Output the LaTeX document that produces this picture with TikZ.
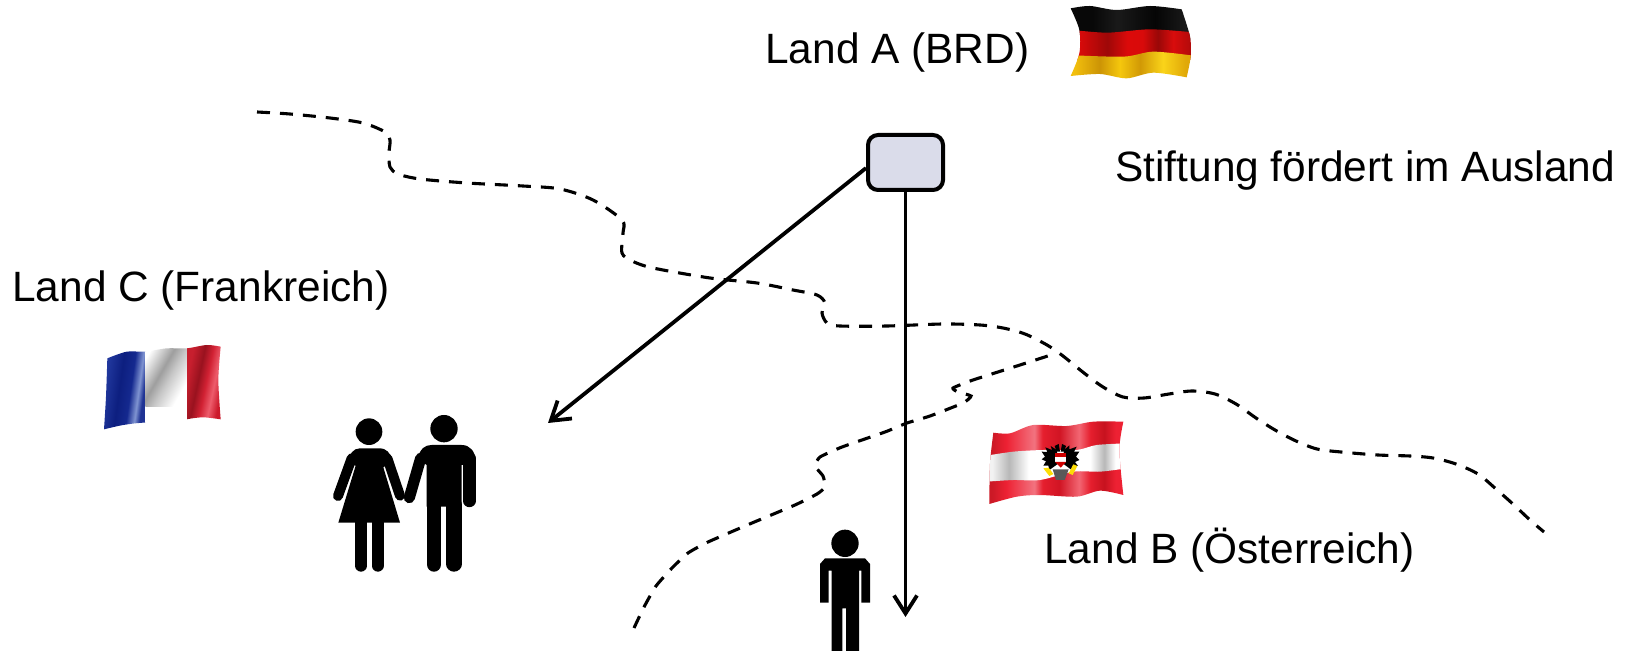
\documentclass[tikz,border=0pt]{standalone}
\usepackage{fontspec}
\setmainfont{Liberation Sans}
\usetikzlibrary{arrows.meta}
\definecolor{boxfill}{HTML}{DADCEA}
% stops 25bp..75bp span the bounding box of the shaded path
\pgfdeclarehorizontalshading{gerblack}{100bp}{rgb(0bp)=(.05,.05,.05);rgb(35bp)=(.03,.03,.03);rgb(45bp)=(.1,.1,.1);rgb(60bp)=(.02,.02,.02);rgb(72bp)=(.1,.1,.1);rgb(100bp)=(.05,.05,.05)}
\pgfdeclarehorizontalshading{gerred}{100bp}{rgb(0bp)=(.8,.05,.05);rgb(30bp)=(.85,.04,.04);rgb(41bp)=(.62,.03,.03);rgb(49bp)=(.86,.04,.04);rgb(55bp)=(.85,.04,.04);rgb(61bp)=(.6,.03,.03);rgb(67bp)=(.85,.05,.05);rgb(74bp)=(.7,.04,.04);rgb(100bp)=(.7,.04,.04)}
\pgfdeclarehorizontalshading{gergold}{100bp}{rgb(0bp)=(.95,.75,.05);rgb(28bp)=(.95,.75,.05);rgb(38bp)=(.8,.58,.02);rgb(46bp)=(.96,.78,.05);rgb(54bp)=(.82,.6,.02);rgb(63bp)=(.98,.83,.1);rgb(72bp)=(.88,.66,.03);rgb(100bp)=(.88,.66,.03)}
\pgfdeclarehorizontalshading{frblue}{100bp}{rgb(0bp)=(.13,.22,.62);rgb(32bp)=(.13,.22,.62);rgb(47bp)=(.05,.12,.5);rgb(58bp)=(.08,.16,.56);rgb(66bp)=(.5,.58,.82);rgb(71bp)=(.12,.2,.58);rgb(100bp)=(.12,.2,.58)}
\pgfdeclarehorizontalshading{frgrey}{100bp}{rgb(0bp)=(1,1,1);rgb(25bp)=(1,1,1);rgb(45bp)=(.62,.62,.62);rgb(55bp)=(.78,.78,.78);rgb(72bp)=(1,1,1);rgb(100bp)=(1,1,1)}
\pgfdeclarehorizontalshading{frred}{100bp}{rgb(0bp)=(.8,.12,.18);rgb(29bp)=(.78,.12,.18);rgb(41bp)=(.6,.07,.12);rgb(50bp)=(.82,.13,.2);rgb(59bp)=(.93,.36,.42);rgb(68bp)=(.8,.1,.17);rgb(100bp)=(.75,.1,.16)}
\pgfdeclarehorizontalshading{atred}{100bp}{rgb(0bp)=(.85,.1,.15);rgb(27bp)=(.8,.1,.15);rgb(32bp)=(.93,.13,.2);rgb(42bp)=(.95,.45,.5);rgb(45bp)=(.9,.12,.18);rgb(51bp)=(.82,.08,.14);rgb(58bp)=(.95,.4,.45);rgb(62bp)=(.9,.12,.18);rgb(67bp)=(.78,.07,.12);rgb(71bp)=(.93,.13,.2);rgb(100bp)=(.93,.13,.2)}
\pgfdeclarehorizontalshading{atwhite}{100bp}{rgb(0bp)=(.95,.95,.95);rgb(27bp)=(.95,.95,.95);rgb(33bp)=(.72,.72,.72);rgb(40bp)=(1,1,1);rgb(62bp)=(1,1,1);rgb(67bp)=(.72,.72,.72);rgb(71bp)=(1,1,1);rgb(100bp)=(1,1,1)}
\tikzset{
  lbl/.style={anchor=base west,inner sep=0pt,font=\fontsize{21.2pt}{24pt}\selectfont,text=black},
  border/.style={line width=1.55pt,dash pattern=on 6.5pt off 5pt,black},
  arrowline/.style={line width=1.9pt,-{Straight Barb[length=9pt,width=11.5pt,line width=1.9pt]}},
  stiftbox/.style={draw=black,line width=2pt,fill=boxfill,rounded corners=5pt,minimum width=37.5pt,minimum height=27.5pt,inner sep=0pt},
  zoomA/.style={shift={(#1)},scale=1/3},
  pict/.style={line cap=round,black}
}
\begin{document}
\begin{tikzpicture}[x=0.5pt,y=-0.5pt]
\useasboundingbox (0,0) rectangle (1631,651);
\fill[white] (0,0) rectangle (1631,651);

% ---------- borders
\draw[border] plot[smooth,tension=0.5] coordinates {(257,112)(290,114)(330,118)(363,123)(385,132)(390,140)(389,153)(390,167)(398,174)(420,179)(467,183)(523,186)(560,189)(593,200)(622,220)(623,233)(622,253)(632,261)(653,268)(710,278)(757,283)(793,290)(817,295)(825,303)(822,313)(827,323)(840,326)(887,326)(943,324)(980,325)(1003,328)(1025,334)(1047,345)(1063,356)(1084,373)(1103,387)(1123,397)(1144,398)(1169,394)(1192,391)(1215,394)(1236,404)(1256,418)(1275,430)(1296,441)(1317,449)(1341,452)(1378,455)(1410,456)(1433,458)(1456,464)(1478,474)(1496,489)(1514,505)(1530,520)(1544,532)};
\draw[border] plot[smooth,tension=0.3] coordinates {(634,628)(644,607)(656,586)(672,568)(688,553)(708,542)(752,523)(795,505)(817,494)(825,487)(823,476)(815,466)(820,457)(842,447)(885,432)(907,423)(930,416)(963,403)(971,396)(958,392)(953,388)(973,380)(1020,365)(1057,353)};

% ---------- German flag
\begin{scope}[zoomA={1040,0}]
\clip plot[smooth] coordinates {(92,25)(150,18)(230,30)(330,18)(425,28)} -- plot[smooth] coordinates {(425,28)(450,110)(452,170)(440,232)} -- plot[smooth] coordinates {(440,232)(340,218)(260,235)(180,222)(92,228)} -- plot[smooth] coordinates {(92,228)(118,160)(118,90)(92,25)} -- cycle;
\shade[shading=gerblack] (80,10) rectangle (460,120);
\shade[shading=gerred] (80,180) -- plot[smooth] coordinates {(80,88)(200,98)(330,88)(460,97)} -- (460,180) -- cycle;
\shade[shading=gergold] (80,240) -- plot[smooth] coordinates {(80,165)(250,170)(340,155)(460,167)} -- (460,240) -- cycle;
\end{scope}

% ---------- French flag
\begin{scope}[zoomA={90,330}]
\clip plot[smooth] coordinates {(52,85)(110,65)(165,65)(230,55)(290,55)(350,45)(392,50)} -- plot[smooth] coordinates {(392,50)(385,150)(392,268)} -- plot[smooth] coordinates {(392,268)(340,262)(290,268)(230,285)(165,278)(100,285)(42,298)} -- plot[smooth] coordinates {(42,298)(48,200)(52,85)} -- cycle;
\shade[shading=frblue,shading angle=-8] (30,30) rectangle (166,310);
\fill[white] (166,30) rectangle (291,310);
\shade[shading=frgrey,shading angle=-30] (166,30) rectangle (291,230);
\shade[shading=frred,shading angle=-12] (291,30) rectangle (400,310);
\end{scope}

% ---------- Austrian flag
\begin{scope}[zoomA={960,400}]
\begin{scope}
\clip plot[smooth] coordinates {(100,98)(150,100)(220,75)(320,78)(400,65)(490,65)} -- plot[smooth] coordinates {(490,65)(478,150)(490,285)} -- plot[smooth] coordinates {(490,285)(420,272)(350,290)(240,285)(170,290)(88,312)} -- plot[smooth] coordinates {(88,312)(90,190)(100,98)} -- cycle;
\shade[shading=atred] (80,50) rectangle (500,320);
\shade[shading=atwhite] plot[smooth] coordinates {(80,167)(160,155)(250,150)(350,150)(410,135)(500,130)} -- plot[smooth] coordinates {(500,205)(420,215)(340,215)(240,240)(160,240)(80,245)} -- cycle;
\end{scope}
% eagle
\fill[black] (290,150) -- (272,138) -- (276,150) -- (256,142) -- (262,156) -- (245,155) -- (255,170) -- (245,178) -- (258,184) -- (250,197) -- (265,197) -- (268,210) -- (296,190) -- cycle;
\fill[black] (312,150) -- (328,136) -- (328,148) -- (350,140) -- (342,155) -- (358,155) -- (348,170) -- (358,180) -- (345,186) -- (354,198) -- (338,198) -- (335,210) -- (308,190) -- cycle;
\fill[yellow!80!orange] (250,205) -- (266,203) -- (280,222) -- (268,228) -- cycle;
\fill[yellow!80!orange] (340,193) -- (352,198) -- (338,225) -- (326,220) -- cycle;
\fill[black!65] (278,208) -- (326,208) -- (314,240) -- (288,240) -- cycle;
\fill[black] (284,138) -- (296,132) -- (300,155) -- (290,155) -- cycle;
\fill[black] (318,138) -- (306,132) -- (302,155) -- (312,155) -- cycle;
\fill[red!80!black] (285,158) rectangle (318,172);
\fill[white] (285,172) rectangle (318,186);
\fill[red!80!black] (285,186) -- (318,186) -- (302,203) -- cycle;
\end{scope}

% ---------- couple
\begin{scope}[zoomA={90,330},pict]
% woman
\fill (837,305) circle [radius=40];
\fill (797,407) -- (745,578) -- (930,578) -- (880,412) -- (908,392) .. controls (900,368) and (890,355) .. (868,355) -- (810,355) .. controls (790,355) and (780,370) .. (770,400) -- cycle;
\draw[line width=5pt] (785,385) -- (744,498);
\draw[line width=5pt] (892,385) -- (930,497);
\draw[line width=6pt] (813,570) -- (813,707);
\draw[line width=6pt] (863,570) -- (863,707);
% man
\fill (1062,296) circle [radius=41];
\fill (982,385) .. controls (992,355) and (1005,345) .. (1025,345) -- (1115,345) .. controls (1140,345) and (1156,365) .. (1156,390) -- (1120,405) -- (1115,405) -- (1115,530) -- (1010,530) -- (1010,405) -- cycle;
\draw[line width=6.2pt] (1138,385) -- (1138,513);
\draw[line width=5.6pt] (992,385) -- (958,503);
\draw[line width=7.4pt] (1032,525) -- (1032,703);
\draw[line width=7.7pt] (1092,525) -- (1092,702);
\end{scope}

% ---------- single person
\begin{scope}[zoomA={780,510},pict]
\fill (195,100) circle [radius=41];
\fill (135,145) -- (255,145) -- (270,162) -- (270,278) -- (244,278) -- (244,182) -- (237,182) -- (237,423) -- (198,423) -- (198,295) -- (187,295) -- (187,423) -- (155,423) -- (155,182) -- (146,182) -- (146,278) -- (120,278) -- (120,162) -- cycle;
\end{scope}

% ---------- box and arrows
\node[stiftbox] (box) at (905.5,162.5) {};
\coordinate (endC) at (548,423);
\coordinate (endB) at (905.5,617);
\draw[arrowline] (box.188) -- (endC);
\draw[arrowline] (box.south) -- (endB);

% ---------- labels
\node[lbl] (landA) at (765,64) {Land A (BRD)};
\node[lbl] (stift) at (1115,182) {Stiftung fördert im Ausland};
\node[lbl] (landC) at (12,302) {Land C (Frankreich)};
\node[lbl] (landB) at (1044,563) {Land B (Österreich)};
\end{tikzpicture}
\end{document}
